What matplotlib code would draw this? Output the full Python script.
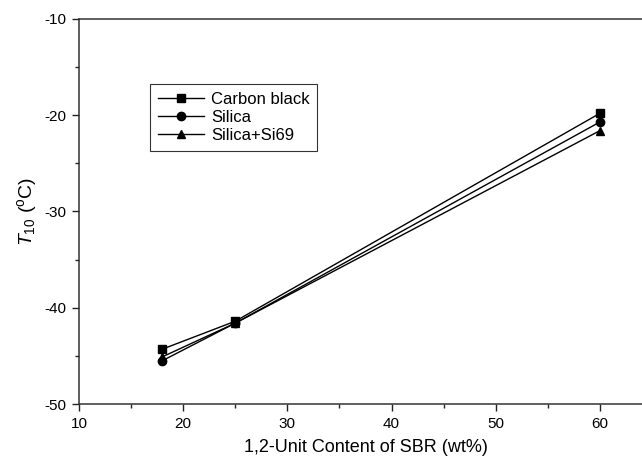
import matplotlib
matplotlib.use("Agg")
import matplotlib.pyplot as plt
from matplotlib.ticker import MultipleLocator

plt.rcParams['font.family'] = ['Liberation Sans', 'DejaVu Sans']
plt.rcParams['mathtext.fontset'] = 'custom'
plt.rcParams['mathtext.rm'] = 'Liberation Sans'
plt.rcParams['mathtext.it'] = 'Liberation Sans:italic'
plt.rcParams['axes.unicode_minus'] = False

x = [18, 25, 60]
carbon_black = [-44.3, -41.4, -19.8]
silica = [-45.5, -41.6, -20.7]
silica_si69 = [-45.1, -41.6, -21.6]
labels = ['Carbon black', 'Silica', 'Silica+Si69']
markers = ['s', 'o', '^']

fig = plt.figure(figsize=(6.42, 4.61), dpi=100)
W, H = 642, 461
left, right, top, bottom = 79, 652, 19, 404
ax = fig.add_axes([left / W, 1 - bottom / H, (right - left) / W, (bottom - top) / H])

for ys, lab, m in zip([carbon_black, silica, silica_si69], labels, markers):
    ax.plot(x, ys, color='black', lw=1.0, marker=m, markersize=6, label=lab)

ax.set_xlim(10, 65)
ax.set_ylim(-50, -10)
ax.xaxis.set_major_locator(MultipleLocator(10))
ax.xaxis.set_minor_locator(MultipleLocator(5))
ax.yaxis.set_major_locator(MultipleLocator(10))
ax.yaxis.set_minor_locator(MultipleLocator(5))
ax.tick_params(which='major', direction='out', length=5, width=1, labelsize=11, color='#222222', pad=4)
ax.tick_params(which='minor', direction='out', length=3, width=1, color='#222222')
ax.tick_params(top=False, right=False, which='both')
for s in ax.spines.values():
    s.set_linewidth(1.1)
    s.set_color('#333333')

ax.set_xlabel('1,2-Unit Content of SBR (wt%)', fontsize=13, labelpad=6)
ax.set_ylabel(r'$T_{\mathit{10}}$ ($^{\rm o}$C)', fontsize=14, labelpad=4)

leg = ax.legend(loc='upper left', bbox_to_anchor=((150 - left) / (right - left), (bottom - 84) / (bottom - top)),
                borderaxespad=0, frameon=True, fancybox=False, fontsize=12,
                handlelength=2.8, handletextpad=0.4, labelspacing=0.2, borderpad=0.45)
leg.get_frame().set_edgecolor('black')
leg.get_frame().set_linewidth(0.8)

fig.savefig('out.png', dpi=100)
